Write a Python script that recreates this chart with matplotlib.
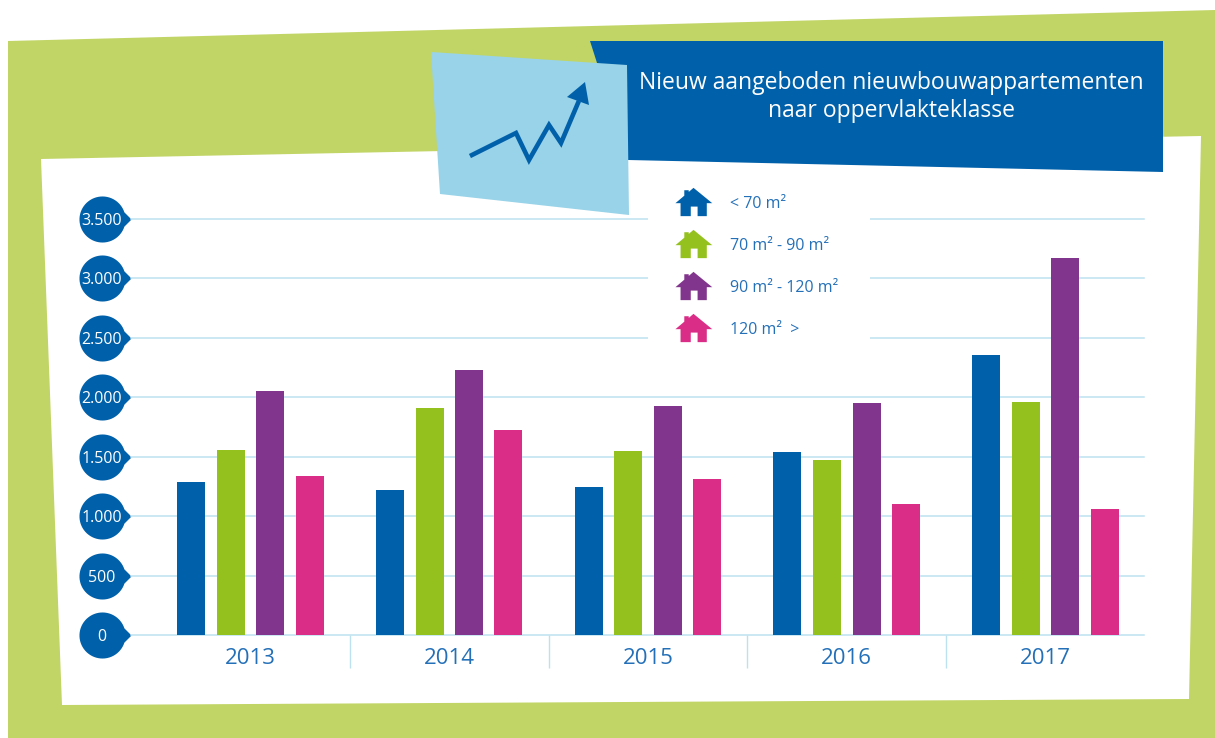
import matplotlib
matplotlib.use("Agg")
import matplotlib.pyplot as plt
import numpy as np
from matplotlib.lines import Line2D
from matplotlib.patches import Polygon, Rectangle
from matplotlib.path import Path

plt.rcParams['font.family'] = ['Open Sans', 'DejaVu Sans']

years = ["2013", "2014", "2015", "2016", "2017"]
small = [1287, 1220, 1245, 1540, 2356]
medium = [1556, 1910, 1548, 1472, 1960]
large = [2053, 2230, 1927, 1952, 3172]
xlarge = [1338, 1725, 1312, 1102, 1060]
series = [small, medium, large, xlarge]
labels = ["< 70 m²", "70 m² - 90 m²", "90 m² - 120 m²", "120 m²  >"]
colors = ["#0060A9", "#95C11F", "#82358C", "#D92D87"]
yticks = [0, 500, 1000, 1500, 2000, 2500, 3000, 3500]
yticklabels = ["0", "500", "1.000", "1.500", "2.000", "2.500", "3.000", "3.500"]
title = "Nieuw aangeboden nieuwbouwappartementen\nnaar oppervlakteklasse"

W, H = 1215, 738
BLUE = "#0060A9"
LINE = "#BDE1EF"
TEXT = "#2470B8"

fig = plt.figure(figsize=(W / 100, H / 100), dpi=100, facecolor="white")

# background shapes, in pixels
bg = fig.add_axes([0, 0, 1, 1], zorder=0)
bg.set_xlim(0, W)
bg.set_ylim(H, 0)
bg.axis("off")
bg.add_patch(Polygon([(8, 41), (1215, 10), (1215, 738), (8, 738)], fc="#C1D566", ec="none"))
bg.add_patch(Polygon([(41, 159), (1201, 136), (1189, 699), (62, 705)], fc="white", ec="none"))
bg.add_patch(Polygon([(590, 41), (1163, 41), (1163, 172), (628, 160)], fc=BLUE, ec="none"))
bg.add_patch(Polygon([(431, 52), (627, 65), (629, 215), (440, 194)], fc="#98D3E9", ec="none"))
bg.plot([472, 516, 529, 549, 561, 578], [155, 133, 160, 125, 143, 103],
        color=BLUE, lw=3.3, solid_joinstyle="miter")
bg.add_patch(Polygon([(585, 82), (567, 97), (589, 105)], fc=BLUE, ec="none"))
bg.text(891, 97, title, color="white", fontsize=16.5, ha="center", va="center", linespacing=1.27)

# chart area
x0, x1, y_base, y_top = 131, 1144, 635, 207
ax = fig.add_axes([x0 / W, 1 - y_base / H, (x1 - x0) / W, (y_base - y_top) / H], zorder=1)
ax.patch.set_visible(False)
ax.set_xlim(-0.601, 4.496)
ax.set_ylim(0, 3600)

x = np.arange(len(years))
offsets = [-0.298, -0.098, 0.1, 0.298]
for values, color, off in zip(series, colors, offsets):
    ax.bar(x + off, values, width=0.141, color=color, zorder=2)

ax.set_axisbelow(True)
ax.set_yticks(yticks)
ax.set_yticklabels(yticklabels, ha="center")
ax.set_xticks(x)
ax.set_xticklabels(years)
ax.set_xticks(x[:-1] + 0.5, minor=True)
ax.grid(axis="y", color=LINE, lw=1.1)
for g in ax.get_ygridlines():
    g.set_clip_on(False)
ax.tick_params(axis="y", length=0, pad=21, labelcolor="white", labelsize=11.5)
ax.tick_params(axis="x", which="major", length=0, pad=9, labelcolor=TEXT, labelsize=16)
ax.tick_params(axis="x", which="minor", length=24, width=1, color=LINE)
for s in ax.spines.values():
    s.set_visible(False)

# round tick bubbles behind the y labels
theta = np.linspace(np.radians(18), np.radians(342), 60)
bubble = np.column_stack([np.cos(theta), np.sin(theta)])
bubble = np.vstack([[1.26, 0], bubble, [1.26, 0]])
ax.plot([-29 / (x1 - x0)] * len(yticks), yticks, ls="none", marker=Path(bubble), ms=41.8,
        mfc=BLUE, mec="none", transform=ax.get_yaxis_transform(), clip_on=False, zorder=0.2)

# white gap in the grid behind the legend
ax.add_patch(Rectangle((648, 190), 222, 155, fc="white", ec="none",
                       transform=bg.transData, zorder=1))

# house marker for the legend
outer = [(0, -43), (-14, -31), (-14, -36), (-27, -36), (-27, -20), (-53, 2), (-38, 2),
         (-38, 40), (39, 40), (39, 2), (55, 2)]
door = [(-8, 12), (12, 12), (12, 40), (-8, 40)]
verts = outer + [outer[0]] + door + [door[0]]
codes = ([Path.MOVETO] + [Path.LINETO] * (len(outer) - 1) + [Path.CLOSEPOLY]
         + [Path.MOVETO] + [Path.LINETO] * (len(door) - 1) + [Path.CLOSEPOLY])
house = Path(np.array(verts) * [1, -1], codes)
handles = [Line2D([], [], ls="none", marker=house, ms=27, mfc=c, mec="none") for c in colors]
leg = ax.legend(handles, labels, loc="upper left", bbox_to_anchor=(672, 196),
                bbox_transform=bg.transData, frameon=False, fontsize=11.5, labelcolor=TEXT,
                handlelength=2.6, handletextpad=1.0, labelspacing=1.62, borderpad=0, borderaxespad=0)
leg.set_zorder(5)

fig.savefig("out.png", dpi=100)
